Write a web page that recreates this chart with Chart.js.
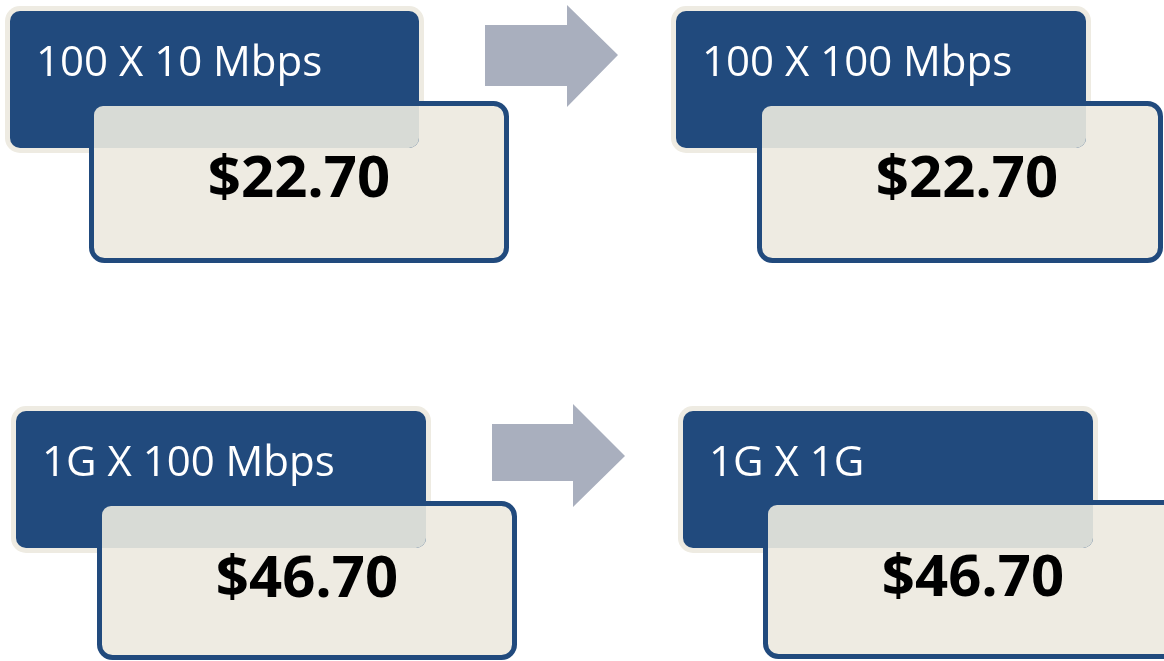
<!DOCTYPE html>
<html>
<head>
<meta charset="utf-8">
<script src="https://cdn.jsdelivr.net/npm/chart.js@4"></script>
<style>
  html, body { margin: 0; padding: 0; background: #ffffff; }
  canvas { display: block; }
</style>
</head>
<body>
<canvas id="diagram" width="1164" height="661"></canvas>
<script>
// tiers before and after the upgrade, with the monthly price of each
const speedsBefore = ['100 X 10 Mbps', '1G X 100 Mbps'];
const speedsAfter = ['100 X 100 Mbps', '1G X 1G'];
const pricesBefore = [22.70, 46.70];
const pricesAfter = [22.70, 46.70];

// layout, in page units (x 0..1164, y 0..661 from the top)
const panelLayout = [
  { dark: [10, 11, 419, 148], price: [89, 101, 509, 263], nominalW: 420 },
  { dark: [676, 11, 1086, 148], price: [757, 101, 1163, 263], nominalW: 420 },
  { dark: [16, 411, 426, 548], price: [97, 501, 517, 660], nominalW: 420 },
  { dark: [683, 411, 1093, 548], price: [763, 500, 1190, 659], nominalW: 420 }
];
const arrowLayout = [
  { x0: 485, x1: 567, tip: 618, shaftTop: 25, shaftBottom: 86, headTop: 5, headBottom: 107, tipY: 55 },
  { x0: 492, x1: 573, tip: 625, shaftTop: 424, shaftBottom: 481, headTop: 404, headBottom: 507, tipY: 456 }
];

const DARK = '#214A7D';
const BEIGE = '#EEEBE2';
const OVERLAP = '#D8DBD6';
const ARROW = '#A9AFBE';

function rrect(ctx, x0, y0, x1, y1, r) {
  ctx.beginPath();
  ctx.roundRect(x0, y0, x1 - x0, y1 - y0, r);
}

const diagramPlugin = {
  id: 'diagram',
  beforeDatasetsDraw(chart) {
    const ctx = chart.ctx;
    const sx = chart.scales.x;
    const sy = chart.scales.y;
    const px = v => sx.getPixelForValue(v);
    const py = v => sy.getPixelForValue(v);

    // arrows
    arrowLayout.forEach(a => {
      ctx.beginPath();
      ctx.moveTo(px(a.x0), py(a.shaftTop));
      ctx.lineTo(px(a.x1), py(a.shaftTop));
      ctx.lineTo(px(a.x1), py(a.headTop));
      ctx.lineTo(px(a.tip), py(a.tipY));
      ctx.lineTo(px(a.x1), py(a.headBottom));
      ctx.lineTo(px(a.x1), py(a.shaftBottom));
      ctx.lineTo(px(a.x0), py(a.shaftBottom));
      ctx.closePath();
      ctx.fillStyle = ARROW;
      ctx.fill();
    });

    const labels = [speedsBefore[0], speedsAfter[0], speedsBefore[1], speedsAfter[1]];
    const prices = [pricesBefore[0], pricesAfter[0], pricesBefore[1], pricesAfter[1]];

    panelLayout.forEach((p, i) => {
      const d = p.dark.map((v, k) => k % 2 ? py(v) : px(v));
      const b = p.price.map((v, k) => k % 2 ? py(v) : px(v));
      const lw = 5;

      // halo round the dark box
      rrect(ctx, d[0] - 5, d[1] - 5, d[2] + 5, d[3] + 5, 15);
      ctx.fillStyle = BEIGE;
      ctx.fill();

      // price box
      rrect(ctx, b[0] + lw / 2, b[1] + lw / 2, b[2] - lw / 2, b[3] - lw / 2, 13);
      ctx.fillStyle = BEIGE;
      ctx.fill();
      ctx.lineWidth = lw;
      ctx.strokeStyle = DARK;
      ctx.stroke();

      // dark label box
      rrect(ctx, d[0], d[1], d[2], d[3], 10);
      ctx.fillStyle = DARK;
      ctx.fill();

      // the see-through part where the price box lies on the label box
      ctx.save();
      rrect(ctx, d[0], d[1], d[2], d[3], 10);
      ctx.clip();
      rrect(ctx, b[0] + lw, b[1] + lw, b[2] - lw, b[3] - lw, 9);
      ctx.fillStyle = OVERLAP;
      ctx.fill();
      ctx.restore();

      // texts
      ctx.textBaseline = 'alphabetic';
      ctx.textAlign = 'left';
      ctx.fillStyle = '#ffffff';
      ctx.font = '42px "Open Sans", sans-serif';
      ctx.fillText(labels[i], d[0] + 26, d[1] + 65);

      ctx.textAlign = 'center';
      ctx.fillStyle = '#000000';
      ctx.font = 'bold 58px "Open Sans", sans-serif';
      ctx.fillText('$' + prices[i].toFixed(2), b[0] + px(p.nominalW) / 2, b[1] + 96);
    });
  }
};

const diagram = new Chart(document.getElementById('diagram').getContext('2d'), {
  type: 'scatter',
  data: { datasets: [{ data: [] }] },
  options: {
    responsive: false,
    animation: false,
    layout: { padding: 0 },
    scales: {
      x: { type: 'linear', min: 0, max: 1164, display: false },
      y: { type: 'linear', min: 0, max: 661, reverse: true, display: false }
    },
    plugins: {
      legend: { display: false },
      tooltip: { enabled: false }
    }
  },
  plugins: [diagramPlugin]
});
</script>
</body>
</html>
